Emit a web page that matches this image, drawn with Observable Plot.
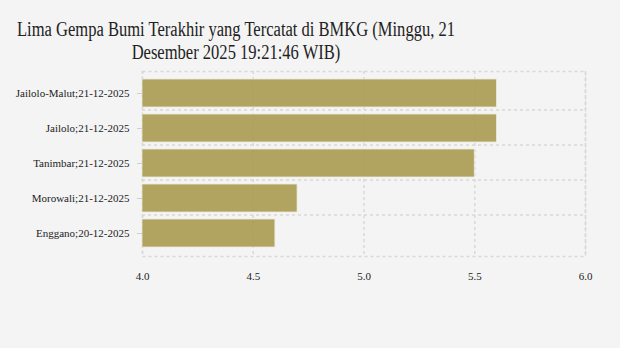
<!DOCTYPE html>
<html>
<head>
<meta charset="utf-8">
<script src="https://cdn.jsdelivr.net/npm/d3@7"></script>
<script src="https://cdn.jsdelivr.net/npm/@observablehq/plot@0.6"></script>
<style>
  html, body { margin: 0; padding: 0; background: #f4f4f4; }
  #wrap { width: 620px; height: 348px; background: #f4f4f4; overflow: hidden; }
  #titlebox { height: 62px; padding-top: 18px; box-sizing: border-box; }
  #title {
    display: inline-block; margin-left: 17px;
    text-align: center; white-space: nowrap;
    font-family: "Liberation Serif", serif;
    font-size: 20px; line-height: 23px; color: #222;
    transform-origin: 0 0;
  }
  #chart svg, #chart svg text { font-family: "Liberation Serif", serif !important; }
</style>
</head>
<body>
<div id="wrap">
  <div id="titlebox"><div id="title">Lima Gempa Bumi Terakhir yang Tercatat di BMKG (Minggu, 21<br>Desember 2025 19:21:46 WIB)</div></div>
  <div id="chart"></div>
</div>
<script>
const locations = ["Jailolo-Malut;21-12-2025", "Jailolo;21-12-2025", "Tanimbar;21-12-2025", "Morowali;21-12-2025", "Enggano;20-12-2025"];
const magnitudes = [5.6, 5.6, 5.5, 4.7, 4.6];
const xTicks = [4.0, 4.5, 5.0, 5.5, 6.0];
const xDomain = [4, 6];

// condense the title horizontally so its first line matches the reference width
const title = document.getElementById("title");
const w = title.getBoundingClientRect().width;
title.style.transform = "scaleX(" + (438 / w).toFixed(4) + ")";

const data = locations.map((loc, i) => ({loc, mag: magnitudes[i]}));

const height = 229, marginTop = 9, marginBottom = 35;
const step = (height - marginTop - marginBottom) / locations.length;

const chart = Plot.plot({
  width: 620,
  height,
  marginTop,
  marginBottom,
  marginLeft: 142,
  marginRight: 35,
  style: {background: "#f4f4f4", fontFamily: "'Liberation Serif', serif", fontSize: "11px", color: "#222"},
  x: {domain: xDomain, ticks: xTicks, tickFormat: d3.format(".1f"), label: null},
  y: {domain: locations, padding: 0.19, label: null},
  marks: [
    Plot.gridX(xTicks, {stroke: "#d8d8d8", strokeOpacity: 1, strokeWidth: 1.5, strokeDasharray: "3,3"}),
    Plot.ruleY(locations.slice(1), {dy: -step / 2, stroke: "#d8d8d8", strokeWidth: 1.5, strokeDasharray: "3,3"}),
    Plot.frame({stroke: "#d8d8d8", strokeWidth: 1.5, strokeDasharray: "3,3"}),
    Plot.barX(data, {x1: () => xDomain[0], x2: "mag", y: "loc", fill: "#a99c53", fillOpacity: 0.92, stroke: "#eeeadb", strokeWidth: 0.8}),
    Plot.axisX({ticks: xTicks, tickFormat: d3.format(".1f"), tickSize: 0, tickPadding: 16, label: null, fill: "#222"}),
    Plot.axisY({tickSize: 5, tickPadding: 8, stroke: "#d0d0d0", fill: "#222", label: null})
  ]
});
document.getElementById("chart").appendChild(chart);
</script>
</body>
</html>
